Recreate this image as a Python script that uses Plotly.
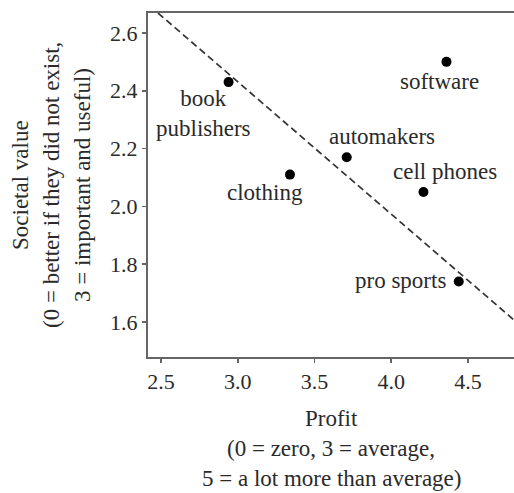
import plotly.graph_objects as go

industries = ["book<br>publishers", "software", "automakers", "clothing", "cell phones", "pro sports"]
profit = [2.94, 4.36, 3.71, 3.34, 4.21, 4.44]
societal = [2.43, 2.50, 2.17, 2.11, 2.05, 1.74]
# label offsets in pixels (dx, dy up)
label_dx = [-25, -7, 35, -25, 22, -11]
label_dy = [-31, -20, 21, -18, 20, 1]

line_x = [2.48, 4.80]
line_y = [2.669, 1.607]

x_ticks = [2.5, 3.0, 3.5, 4.0, 4.5]
y_ticks = [1.6, 1.8, 2.0, 2.2, 2.4, 2.6]

x_title = ["Profit", "(0 = zero, 3 = average,", "5 = a lot more than average)"]
y_title = ["Societal value", "(0 = better if they did not exist,", "3 = important and useful)"]

FONT = "Liberation Serif"
TXT = "#2a2a2a"
AX = "#666666"

fig = go.Figure()
fig.add_trace(go.Scatter(x=line_x, y=line_y, mode="lines",
                         line=dict(color="#333333", width=1.7, dash="7px,4px"),
                         hoverinfo="skip", showlegend=False))
fig.add_trace(go.Scatter(x=profit, y=societal, mode="markers",
                         marker=dict(color="black", size=10),
                         showlegend=False))

for name, x, y, dx, dy in zip(industries, profit, societal, label_dx, label_dy):
    fig.add_annotation(x=x, y=y, xref="x", yref="y", text=name, showarrow=False,
                       xshift=dx, yshift=dy,
                       xanchor="right" if name == "pro sports" else "center",
                       font=dict(family=FONT, size=23, color=TXT))

# x title lines
for i, t in enumerate(x_title):
    fig.add_annotation(x=0.5, y=0, xref="paper", yref="paper", text=t, showarrow=False,
                       yshift=-61 - 30 * i, yanchor="middle",
                       font=dict(family=FONT, size=23, color=TXT))
# y title lines
for i, t in enumerate(y_title):
    fig.add_annotation(x=0, y=0.5, xref="paper", yref="paper", text=t, showarrow=False,
                       xshift=-128 + 31 * i, xanchor="center", yanchor="middle", textangle=-90,
                       font=dict(family=FONT, size=23, color=TXT))

fig.update_xaxes(range=[2.415, 4.80], tickvals=x_ticks, ticktext=[f"{v:.1f}" for v in x_ticks],
                 showgrid=False, zeroline=False, showline=True, linecolor=AX, linewidth=2,
                 mirror=True, ticks="outside", ticklen=4, tickcolor=AX, tickwidth=1.5,
                 tickfont=dict(family=FONT, size=22, color=TXT))
fig.update_yaxes(range=[1.479, 2.669], tickvals=y_ticks, ticktext=[f"{v:.1f}" for v in y_ticks],
                 showgrid=False, zeroline=False, showline=True, linecolor=AX, linewidth=2,
                 ticks="outside", ticklen=4, tickcolor=AX, tickwidth=1.5,
                 tickfont=dict(family=FONT, size=22, color=TXT))

fig.update_layout(width=514, height=493, margin=dict(l=148, r=0, t=13, b=136),
                  plot_bgcolor="white", paper_bgcolor="white", showlegend=False)

fig.write_html("out.html",
               config={"displayModeBar": False, "staticPlot": True},
               post_script="document.body.style.margin='0';document.body.style.overflow='hidden';")
